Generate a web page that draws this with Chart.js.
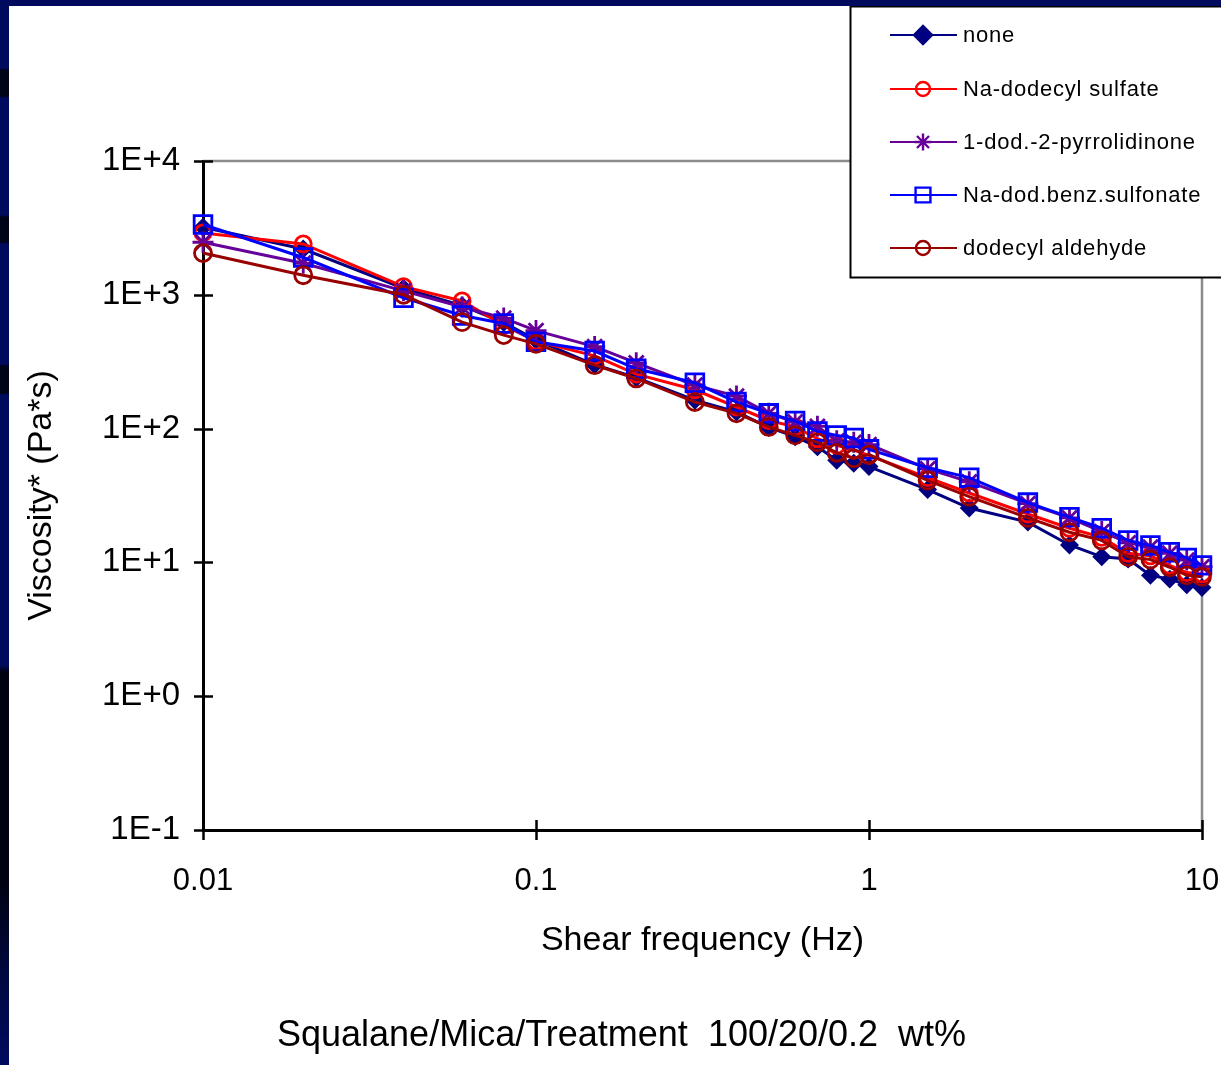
<!DOCTYPE html>
<html>
<head>
<meta charset="utf-8">
<script src="https://cdn.jsdelivr.net/npm/chart.js"></script>
<style>
  html, body { margin:0; padding:0; width:1221px; height:1065px; overflow:hidden; background:#fff; }
  #wrap { position:absolute; left:0; top:0; width:1221px; height:1065px; }
  #topbar { position:absolute; left:0; top:0; width:1221px; height:6px; background:#000b5e; z-index:3; }
  #leftbar { position:absolute; left:0; top:0; width:9px; height:1065px; z-index:3;
    background: linear-gradient(to bottom,
      #000b5e 0px, #000b5e 68px, #000418 70px, #000418 96px, #000b5e 98px,
      #000b5e 215px, #000418 217px, #000418 242px, #000b5e 244px,
      #000b5e 364px, #000418 366px, #000418 393px, #000b5e 395px,
      #000b5e 665px, #00020f 672px, #000210 880px, #000842 980px, #000b5e 1065px); }
  #note { position:absolute; left:277px; top:1013px; font-family:'Liberation Sans', Arial, sans-serif;
    font-size:36px; line-height:42px; white-space:pre; color:#000; z-index:2; }
</style>
</head>
<body>
<div id="wrap"><canvas id="c" width="1221" height="1065"></canvas></div>
<div id="topbar"></div>
<div id="leftbar"></div>
<div id="note">Squalane/Mica/Treatment  100/20/0.2  wt%</div>
<script>
// ---- data ----
const freq = [0.01,0.02,0.04,0.06,0.08,0.1,0.15,0.2,0.3,0.4,0.5,0.6,0.7,0.8,0.9,1,1.5,2,3,4,5,6,7,8,9,10];
const none = [3200,2200,1120,830,620,460,300,240,163,133,102,87,73,58,55,52,35,25.5,20,13.5,11,10.6,8,7.5,6.8,6.5];
const sds  = [2900,2400,1150,900,590,450,350,255,195,145,115,103,84,75,69,63,43,33,23,18,15.4,11.7,11.2,9.5,8.4,8.2];
const pyr  = [2470,1720,1070,810,670,540,410,310,211,175,130,112,104,81,79,76,50,40,27.5,21.5,17,14,13,11.7,10.4,9.3];
const benz = [3350,1900,950,700,610,445,380,280,220,158,130,114,95,89,85,70,51,43,28,21.8,18,14.6,13.4,11.9,10.8,9.5];
const ald  = [2050,1400,1000,625,500,430,298,237,158,130,103,89,79,66,60,64,41,31,21.5,16.8,14.6,11,10.5,9.2,8.0,7.8];
const seriesLabels = ['none','Na-dodecyl sulfate','1-dod.-2-pyrrolidinone','Na-dod.benz.sulfonate','dodecyl aldehyde'];
const xTicks = [0.01,0.1,1,10];
const xTickLabels = ['0.01','0.1','1','10'];
const yTicks = [0.1,1,10,100,1000,10000];
const yTickLabels = ['1E-1','1E+0','1E+1','1E+2','1E+3','1E+4'];
const xTitle = 'Shear frequency (Hz)';
const yTitle = 'Viscosity* (Pa*s)';

// ---- styles ----
const FONT = "'Liberation Sans', Arial, sans-serif";
const seriesValues = [none, sds, pyr, benz, ald];
const styles = [
  {color:'#000080', pointStyle:'rectRot', radius:7.5, fill:'#000080', legendRadius:9},
  {color:'#ff0000', pointStyle:'circle',  radius:8,   fill:'rgba(0,0,0,0)', legendRadius:7},
  {color:'#660099', pointStyle:'star',    radius:10.5,fill:'rgba(0,0,0,0)', legendRadius:8.5},
  {color:'#0000ff', pointStyle:'rect',    radius:12.5,fill:'rgba(0,0,0,0)', legendRadius:10.5},
  {color:'#990000', pointStyle:'circle',  radius:8.5, fill:'rgba(0,0,0,0)', legendRadius:7}
];

const datasets = seriesValues.map((vals, i) => ({
  label: seriesLabels[i],
  data: freq.map((f, j) => ({x: f, y: vals[j]})),
  borderColor: styles[i].color,
  backgroundColor: styles[i].fill,
  borderWidth: 3,
  pointStyle: styles[i].pointStyle,
  pointRadius: styles[i].radius,
  pointHoverRadius: styles[i].radius,
  pointBorderWidth: 2.8,
  pointBorderColor: styles[i].color,
  pointBackgroundColor: styles[i].fill,
  tension: 0,
  fill: false,
  clip: false,
  order: seriesValues.length - i
}));

function drawMarker(ctx, style, r, x, y) {
  if (Chart.helpers && Chart.helpers.drawPoint) {
    Chart.helpers.drawPoint(ctx, {pointStyle: style, radius: r, rotation: 0, borderWidth: ctx.lineWidth}, x, y);
    return;
  }
  ctx.beginPath();
  if (style === 'circle') { ctx.arc(x, y, r, 0, Math.PI*2); ctx.stroke(); }
  else if (style === 'rect') { const s = r*Math.SQRT1_2; ctx.rect(x-s, y-s, 2*s, 2*s); ctx.stroke(); }
  else if (style === 'rectRot') { ctx.moveTo(x-r,y); ctx.lineTo(x,y-r); ctx.lineTo(x+r,y); ctx.lineTo(x,y+r); ctx.closePath(); ctx.fill(); ctx.stroke(); }
  else { for (let k=0;k<4;k++){ const a=k*Math.PI/4; ctx.moveTo(x-r*Math.cos(a), y-r*Math.sin(a)); ctx.lineTo(x+r*Math.cos(a), y+r*Math.sin(a)); } ctx.stroke(); }
}

const framePlugin = {
  id: 'frame',
  beforeDatasetsDraw(chart) {
    const {ctx, chartArea: {left, right, top, bottom}} = chart;
    ctx.save();
    ctx.strokeStyle = '#8c8c8c';
    ctx.lineWidth = 2.5;
    ctx.beginPath();
    ctx.moveTo(left, top); ctx.lineTo(right, top); ctx.lineTo(right, bottom);
    ctx.stroke();
    ctx.strokeStyle = '#000';
    ctx.lineWidth = 2.5;
    const xs = chart.scales.x, ys = chart.scales.y;
    ys.ticks.forEach(t => {
      const y = Math.round(ys.getPixelForValue(t.value)) + 0.5;
      ctx.beginPath(); ctx.moveTo(left - 9, y); ctx.lineTo(left + 10, y); ctx.stroke();
    });
    xs.ticks.forEach(t => {
      const x = Math.round(xs.getPixelForValue(t.value)) + 0.5;
      ctx.beginPath(); ctx.moveTo(x, bottom - 10); ctx.lineTo(x, bottom + 10); ctx.stroke();
    });
    ctx.restore();
  },
  afterDraw(chart) {
    const ctx = chart.ctx;
    ctx.save();
    const x0 = 850.5, y0 = 6.5, x1 = 1232, y1 = 277.5;
    ctx.fillStyle = '#fff';
    ctx.fillRect(x0, y0, x1 - x0, y1 - y0);
    ctx.strokeStyle = '#000';
    ctx.lineWidth = 2;
    ctx.strokeRect(x0, y0, x1 - x0, y1 - y0);
    const rows = [35, 89, 142, 195, 248];
    chart.data.datasets.forEach((ds, i) => {
      const y = rows[i];
      const st = styles[i];
      ctx.strokeStyle = st.color;
      ctx.lineWidth = 2;
      ctx.beginPath(); ctx.moveTo(890, y); ctx.lineTo(957, y); ctx.stroke();
      ctx.fillStyle = st.fill;
      ctx.lineWidth = 2.4;
      drawMarker(ctx, st.pointStyle, st.legendRadius, 923, y);
      ctx.fillStyle = '#000';
      ctx.font = '22px ' + FONT;
      if ('letterSpacing' in ctx) ctx.letterSpacing = '0.8px';
      ctx.textBaseline = 'middle';
      ctx.textAlign = 'left';
      ctx.fillText(ds.label, 963, y + 1);
      if ('letterSpacing' in ctx) ctx.letterSpacing = '0px';
    });
    ctx.restore();
  }
};

new Chart(document.getElementById('c'), {
  type: 'line',
  data: { datasets },
  options: {
    responsive: false,
    animation: false,
    devicePixelRatio: 1,
    layout: { padding: { top: 161, right: 19, bottom: 100, left: 0 } },
    plugins: { legend: { display: false }, tooltip: { enabled: false }, title: { display: false } },
    scales: {
      x: {
        type: 'logarithmic',
        position: 'bottom',
        min: 0.01, max: 10,
        afterBuildTicks: s => { s.ticks = xTicks.map(v => ({value: v})); },
        afterFit: s => { s.height = 135; s.paddingRight = 0; s.paddingLeft = 0; },
        ticks: {
          autoSkip: false, maxRotation: 0, padding: 33, color: '#000',
          font: { family: FONT, size: 31 },
          callback: (v, i) => xTickLabels[i]
        },
        grid: { display: false, drawTicks: false },
        border: { display: true, color: '#000', width: 3 },
        title: { display: true, text: xTitle, color: '#000', font: { family: FONT, size: 34 }, padding: { top: 0, bottom: 4 } }
      },
      y: {
        type: 'logarithmic',
        position: 'left',
        min: 0.1, max: 10000,
        afterBuildTicks: s => { s.ticks = yTicks.map(v => ({value: v})); },
        afterFit: s => { s.width = 203; },
        ticks: {
          autoSkip: false, padding: 23, color: '#000',
          font: { family: FONT, size: 33 },
          callback: (v, i) => yTickLabels[i]
        },
        grid: { display: false, drawTicks: false },
        border: { display: true, color: '#000', width: 3 },
        title: { display: true, text: yTitle, color: '#000', font: { family: FONT, size: 34 }, padding: { top: 21, bottom: 0 } }
      }
    }
  },
  plugins: [framePlugin]
});
</script>
</body>
</html>
